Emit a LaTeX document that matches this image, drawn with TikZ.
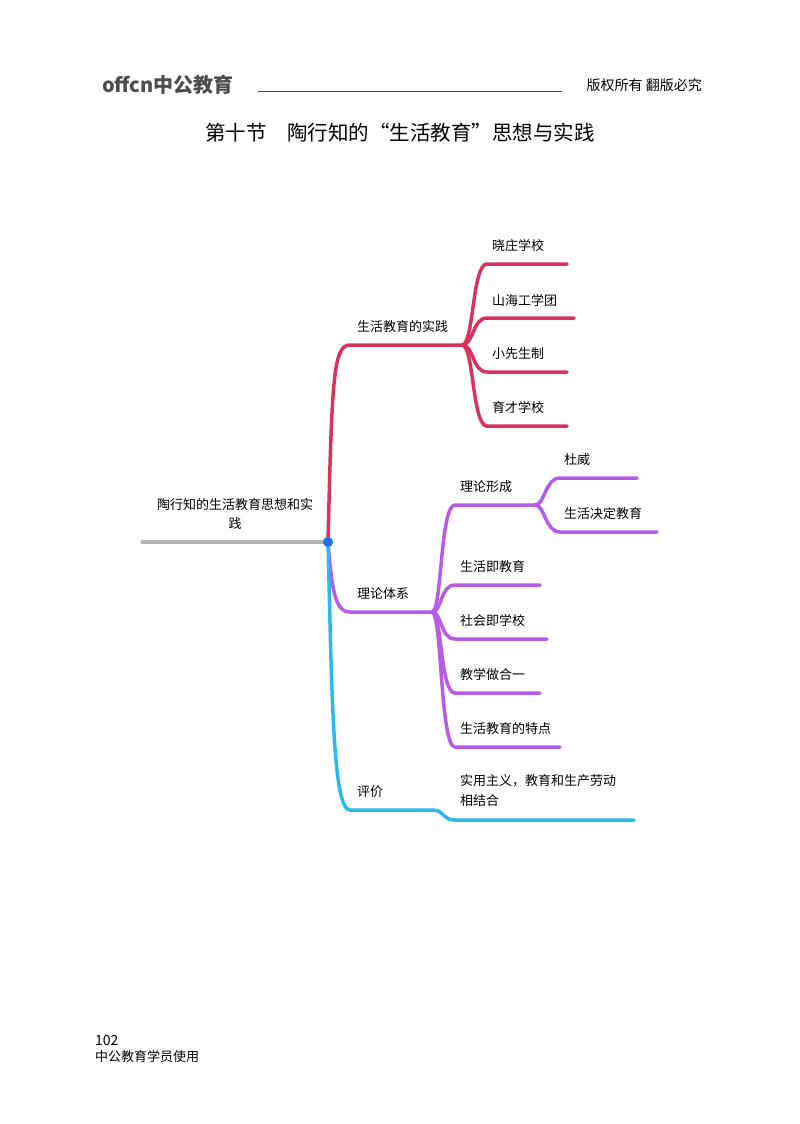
\documentclass[tikz,border=0pt]{standalone}
\usepackage{fontspec}
\setmainfont{Noto Sans CJK SC}
\definecolor{cred}{HTML}{D9325E}
\definecolor{cpur}{HTML}{B65CE6}
\definecolor{cblu}{HTML}{2DB8EC}
\definecolor{cgry}{HTML}{B4B4B4}
\definecolor{chub}{HTML}{1F6FE0}
\tikzset{
  br/.style={line width=3.5pt,line cap=round},
  lab/.style={font=\fontsize{13}{15}\selectfont,anchor=west,inner sep=0pt},
}
\begin{document}
\begin{tikzpicture}[x=1pt,y=-1pt]
\useasboundingbox (0,0) rectangle (800,1124);
% header
\node[anchor=west,inner sep=0pt,text=black!70,font=\fontsize{20}{22}\selectfont\bfseries] (logo) at (102,85) {offcn中公教育};
\coordinate (hl1) at (258,91); \coordinate (hl2) at (562,91);
\draw[black!70,line width=0.8pt] (hl1) -- (hl2);
\node[anchor=east,inner sep=0pt,font=\fontsize{14}{16}\selectfont] (copy) at (702,85) {版权所有\ 翻版必究};
\node[inner sep=0pt,font=\fontsize{20.5}{22}\selectfont] (title) at (400,133) {第十节\quad 陶行知的“生活教育”思想与实践};
% footer
\node[anchor=west,inner sep=0pt,font=\fontsize{14}{16}\selectfont\rmfamily] (pg) at (95,1040) {102};
\node[anchor=west,inner sep=0pt,font=\fontsize{13}{15}\selectfont] (ft) at (95,1057) {中公教育学员使用};
% hub
\coordinate (hub) at (328,542);
\coordinate (g0) at (142,542);
\draw[br,cgry] (g0) -- (hub);
\node[align=center,inner sep=0pt,font=\fontsize{13}{19}\selectfont] (root) at (235,514) {陶行知的生活教育思想和实\\践};
% red
\coordinate (r1) at (350,345); \coordinate (r2) at (462,345);
\draw[br,cred] (hub) .. controls (332,380) and (333,345) .. (r1) -- (r2);
\node[lab] (rl) at (357,327) {生活教育的实践};
\foreach \y/\e/\t [count=\i] in {264/567/晓庄学校,318/574/山海工学团,372/567/小先生制,426/567/育才学校}{
  \coordinate (rs\i) at (487,\y); \coordinate (re\i) at (\e,\y);
  \draw[br,cred] (r2) .. controls (474,345) and (472,\y) .. (rs\i) -- (re\i);
  \node[lab] (rt\i) at (492,\y-18) {\t};
}
% purple
\coordinate (p1) at (350,612); \coordinate (p2) at (432,612);
\draw[br,cpur] (hub) .. controls (332,590) and (335,612) .. (p1) -- (p2);
\node[lab] (pl) at (357,594) {理论体系};
\coordinate (q1) at (455,505); \coordinate (q2) at (535,505);
\draw[br,cpur] (p2) .. controls (442,612) and (440,505) .. (q1) -- (q2);
\node[lab] (qt) at (460,487) {理论形成};
\coordinate (d1) at (560,478); \coordinate (d2) at (637,478);
\coordinate (d3) at (560,532); \coordinate (d4) at (657,532);
\draw[br,cpur] (q2) .. controls (545,505) and (545,478) .. (d1) -- (d2);
\draw[br,cpur] (q2) .. controls (545,505) and (545,532) .. (d3) -- (d4);
\node[lab] (dt1) at (564,460) {杜威};
\node[lab] (dt2) at (564,514) {生活决定教育};
\foreach \y/\e/\t [count=\i] in {585/540/生活即教育,639/547/社会即学校,693/540/教学做合一,747/560/生活教育的特点}{
  \coordinate (ps\i) at (455,\y); \coordinate (pe\i) at (\e,\y);
  \draw[br,cpur] (p2) .. controls (442,612) and (440,\y) .. (ps\i) -- (pe\i);
  \node[lab] (pt\i) at (460,\y-18) {\t};
}
% blue
\coordinate (b1) at (350,810); \coordinate (b2) at (432,810);
\draw[br,cblu] (hub) .. controls (332,700) and (333,810) .. (b1) -- (b2);
\node[lab] (bl) at (357,792) {评价};
\coordinate (bs) at (455,820); \coordinate (be) at (634,820);
\draw[br,cblu] (b2) .. controls (445,810) and (442,820) .. (bs) -- (be);
\node[lab,align=left,anchor=north west,font=\fontsize{13}{20}\selectfont] (bt) at (460,774) {实用主义，教育和生产劳动\\相结合};
\fill[chub] (hub) circle (5);
\end{tikzpicture}
\end{document}
